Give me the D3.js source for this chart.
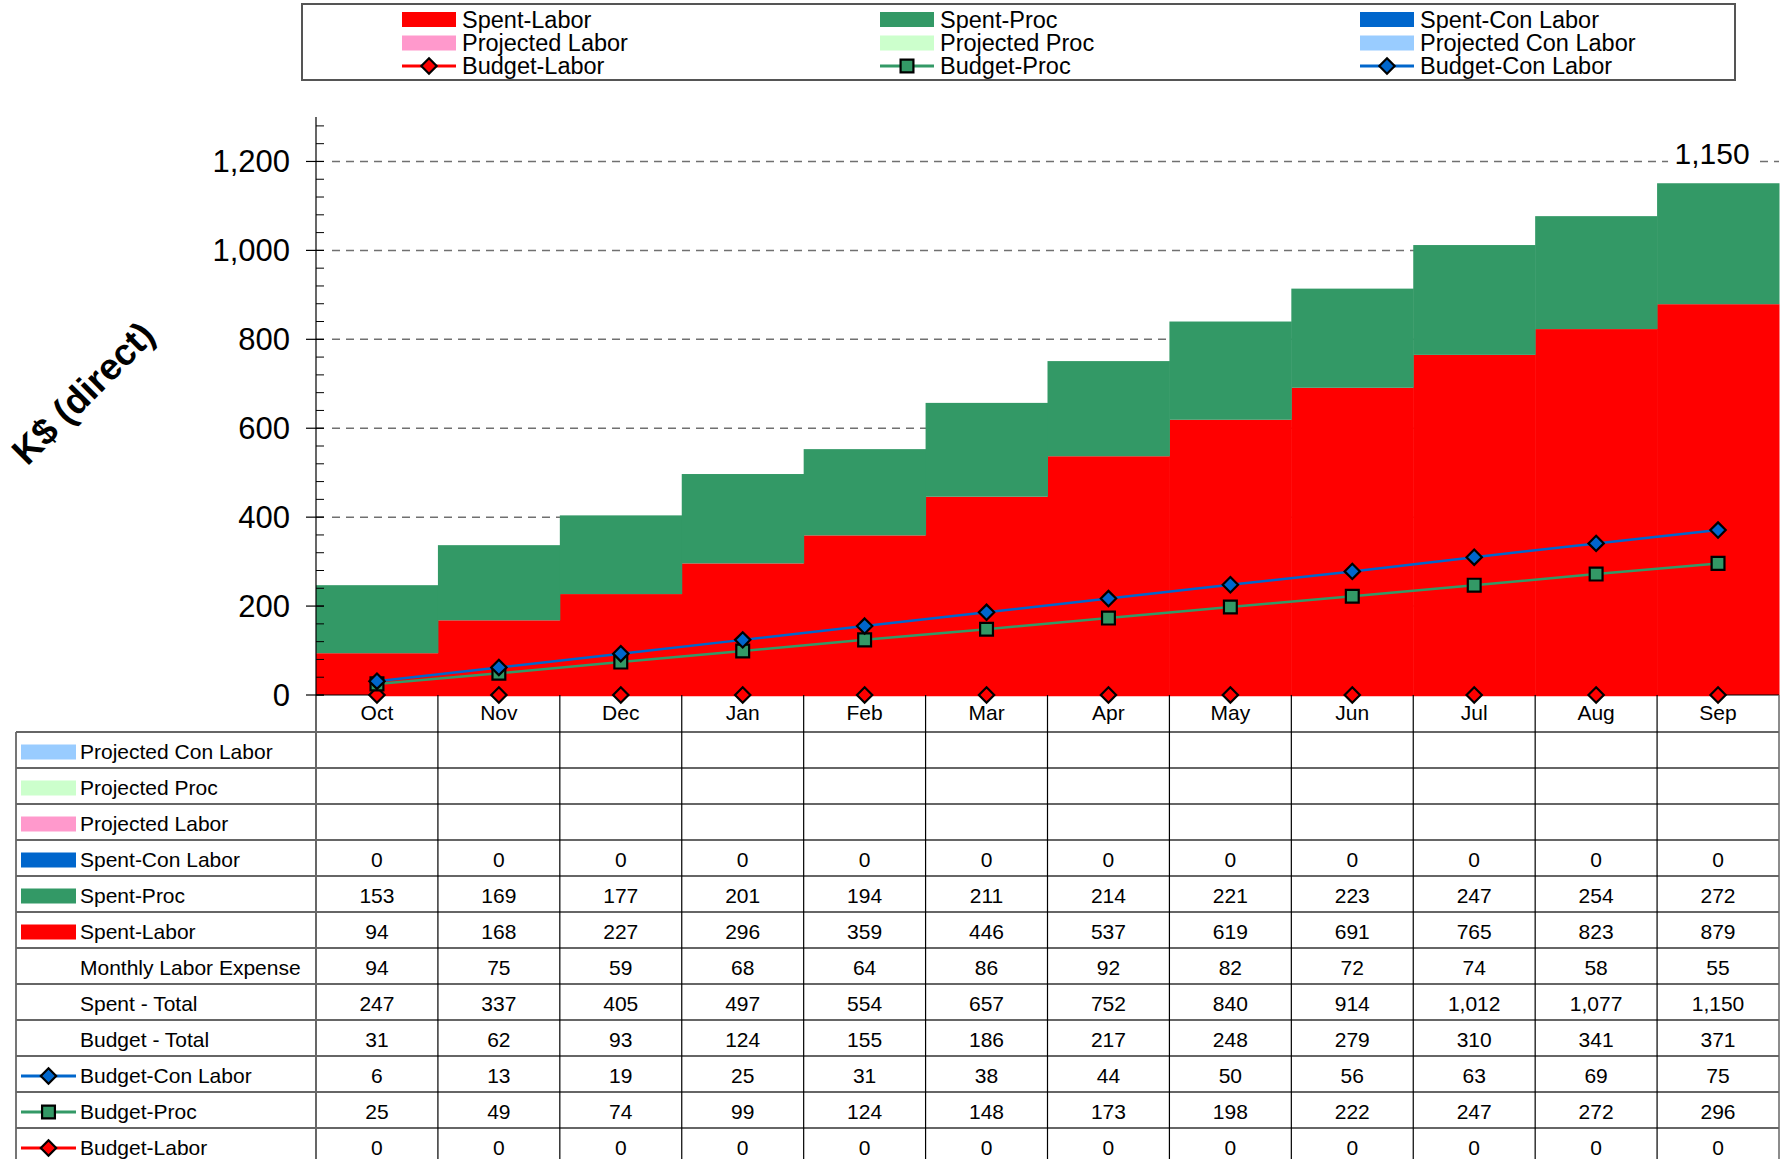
<!doctype html>
<html lang="en">
  <head>
    <meta charset="utf-8">
    <script src="https://cdn.jsdelivr.net/npm/d3@7/dist/d3.min.js"></script>
    <style>
      body {margin:0; background:#fff; overflow:hidden}
      svg {display:block}
      text {font-family:"Liberation Sans", Arial, sans-serif; fill:#000}
    </style>
    <title>K$ direct spend vs budget</title>
  </head>
  <body>
    <script>
      const months = ["Oct","Nov","Dec","Jan","Feb","Mar","Apr","May","Jun","Jul","Aug","Sep"];
      const spentLabor = [94,168,227,296,359,446,537,619,691,765,823,879];
      const spentProc = [153,169,177,201,194,211,214,221,223,247,254,272];
      const spentConLabor = [0,0,0,0,0,0,0,0,0,0,0,0];
      const monthlyLaborExpense = [94,75,59,68,64,86,92,82,72,74,58,55];
      const spentTotal = [247,337,405,497,554,657,752,840,914,1012,1077,1150];
      const budgetTotal = [31,62,93,124,155,186,217,248,279,310,341,371];
      const budgetConLabor = [6,13,19,25,31,38,44,50,56,63,69,75];
      const budgetProc = [25,49,74,99,124,148,173,198,222,247,272,296];
      const budgetLabor = [0,0,0,0,0,0,0,0,0,0,0,0];
      const yTicks = [0,200,400,600,800,1000,1200];

      const W = 1784, H = 1159;
      const x0 = 316, x1 = 1779, y0 = 695, yTop = 117;
      const rowH = 36, tableTop = 732, tableLeft = 16;

      const svg = d3.select("body").append("svg")
        .attr("width", W).attr("height", H);

      const x = d3.scaleBand().domain(months).range([x0, x1]).padding(0);
      const y = d3.scaleLinear().domain([0, 1300]).range([y0, yTop]);

      // gridlines
      svg.append("g").selectAll("line")
        .data(yTicks.filter(d => d > 0))
        .enter().append("line")
        .attr("x1", x0 + 16).attr("x2", x1)
        .attr("y1", d => y(d)).attr("y2", d => y(d))
        .attr("stroke", "#707070").attr("stroke-width", 1.5)
        .attr("stroke-dasharray", "8,6");

      // stacked spend columns
      const spentRows = months.map((m, i) => ({month:m, labor:spentLabor[i], proc:spentProc[i], con:spentConLabor[i]}));
      const spentStack = d3.stack().keys(["labor","proc","con"])(spentRows);
      const barColor = {labor:"#FF0000", proc:"#339966", con:"#0066CC"};

      svg.append("g").selectAll("g")
        .data(spentStack)
        .enter().append("g")
        .attr("fill", d => barColor[d.key])
        .selectAll("rect")
        .data(d => d)
        .enter().append("rect")
        .attr("x", d => x(d.data.month))
        .attr("width", x.bandwidth() + 0.5)
        .attr("y", d => y(d[1]))
        .attr("height", d => y(d[0]) - y(d[1]));

      // total label on last column
      const last = months.length - 1;
      const lbl = svg.append("g")
        .attr("transform", "translate(" + (x(months[last]) + x.bandwidth()/2 - 6) + "," + (y(spentTotal[last]) - 20) + ")");
      lbl.append("rect").attr("x", -44).attr("y", -26).attr("width", 88).attr("height", 30).attr("fill", "#fff");
      lbl.append("text").attr("text-anchor", "middle").attr("font-size", "30px")
        .text(d3.format(",")(spentTotal[last]));

      // y axis
      const yAxis = svg.append("g");
      yAxis.append("line").attr("x1", x0).attr("x2", x0).attr("y1", yTop).attr("y2", H).attr("stroke", "#000").attr("stroke-width", 1.2);
      yAxis.selectAll(".minor")
        .data(d3.range(0, 1301, 40))
        .enter().append("line")
        .attr("x1", x0).attr("x2", x0 + 8)
        .attr("y1", d => y(d)).attr("y2", d => y(d))
        .attr("stroke", "#000").attr("stroke-width", 1);
      yAxis.selectAll(".major")
        .data(yTicks)
        .enter().append("line")
        .attr("x1", x0 - 10).attr("x2", x0 + 8)
        .attr("y1", d => y(d)).attr("y2", d => y(d))
        .attr("stroke", "#000").attr("stroke-width", 1.2);
      yAxis.selectAll("text")
        .data(yTicks)
        .enter().append("text")
        .attr("x", 290).attr("y", d => y(d) + 11)
        .attr("text-anchor", "end").attr("font-size", "31px")
        .text(d => d3.format(",")(d));

      svg.append("text")
        .attr("transform", "translate(92,402) rotate(-45)")
        .attr("text-anchor", "middle").attr("font-size", "37px").attr("font-weight", "bold")
        .text("K$ (direct)");

      // x axis line
      svg.append("line").attr("x1", x0).attr("x2", x1).attr("y1", y0).attr("y2", y0).attr("stroke", "#000").attr("stroke-width", 1.2);

      // budget lines (stacked)
      const budgetRows = months.map((m, i) => ({month:m, labor:budgetLabor[i], proc:budgetProc[i], con:budgetConLabor[i]}));
      const budgetStack = d3.stack().keys(["labor","proc","con"])(budgetRows);
      const lineColor = {labor:"#FF0000", proc:"#339966", con:"#0066CC"};
      const line = d3.line().x(d => x(d.data.month) + x.bandwidth()/2).y(d => y(d[1]));
      const diamond = d3.symbol().type(d3.symbolDiamond2).size(150);
      const square = d3.symbol().type(d3.symbolSquare2).size(210);

      budgetStack.forEach(s => {
        svg.append("path").datum(s)
          .attr("fill", "none").attr("stroke", lineColor[s.key]).attr("stroke-width", 2.5)
          .attr("d", line);
      });
      budgetStack.forEach(s => {
        svg.append("g").selectAll("path")
          .data(s).enter().append("path")
          .attr("transform", d => "translate(" + (x(d.data.month) + x.bandwidth()/2) + "," + y(d[1]) + ")")
          .attr("d", s.key == "proc" ? square : diamond)
          .attr("fill", lineColor[s.key]).attr("stroke", "#000").attr("stroke-width", 2.2);
      });

      // top legend
      const legend = svg.append("g");
      legend.append("rect").attr("x", 302).attr("y", 4).attr("width", 1433).attr("height", 76)
        .attr("fill", "#fff").attr("stroke", "#555").attr("stroke-width", 2);
      const legendItems = [
        {name:"Spent-Labor", color:"#FF0000", kind:"box"},
        {name:"Spent-Proc", color:"#339966", kind:"box"},
        {name:"Spent-Con Labor", color:"#0066CC", kind:"box"},
        {name:"Projected Labor", color:"#FF99CC", kind:"box"},
        {name:"Projected Proc", color:"#CCFFCC", kind:"box"},
        {name:"Projected Con Labor", color:"#99CCFF", kind:"box"},
        {name:"Budget-Labor", color:"#FF0000", kind:"diamond"},
        {name:"Budget-Proc", color:"#339966", kind:"square"},
        {name:"Budget-Con Labor", color:"#0066CC", kind:"diamond"}
      ];
      const legCols = [402, 880, 1360], legRows = [19.5, 43, 66];

      function symbolKey(g, d, cx, cy, w) {
        if (d.kind == "box") {
          g.append("rect").attr("x", cx).attr("y", cy - 7.5).attr("width", w).attr("height", 15).attr("fill", d.color);
        } else {
          g.append("line").attr("x1", cx).attr("x2", cx + w).attr("y1", cy).attr("y2", cy)
            .attr("stroke", d.color).attr("stroke-width", 3);
          g.append("path").attr("transform", "translate(" + (cx + w/2) + "," + cy + ")")
            .attr("d", d.kind == "square" ? square : diamond)
            .attr("fill", d.color).attr("stroke", "#000").attr("stroke-width", 2.2);
        }
      }

      legendItems.forEach((d, i) => {
        const cx = legCols[i % 3], cy = legRows[Math.floor(i / 3)];
        symbolKey(legend, d, cx, cy, 54);
        legend.append("text").attr("x", cx + 60).attr("y", cy + 8).attr("font-size", "23.5px").text(d.name);
      });

      // month labels
      svg.append("g").selectAll("text")
        .data(months).enter().append("text")
        .attr("x", d => x(d) + x.bandwidth()/2).attr("y", 720)
        .attr("text-anchor", "middle").attr("font-size", "21px")
        .text(d => d);

      // data table
      const tableRows = [
        {name:"Projected Con Labor", color:"#99CCFF", kind:"box", values:null},
        {name:"Projected Proc", color:"#CCFFCC", kind:"box", values:null},
        {name:"Projected Labor", color:"#FF99CC", kind:"box", values:null},
        {name:"Spent-Con Labor", color:"#0066CC", kind:"box", values:spentConLabor},
        {name:"Spent-Proc", color:"#339966", kind:"box", values:spentProc},
        {name:"Spent-Labor", color:"#FF0000", kind:"box", values:spentLabor},
        {name:"Monthly Labor Expense", kind:"none", values:monthlyLaborExpense},
        {name:"Spent - Total", kind:"none", values:spentTotal},
        {name:"Budget - Total", kind:"none", values:budgetTotal},
        {name:"Budget-Con Labor", color:"#0066CC", kind:"diamond", values:budgetConLabor},
        {name:"Budget-Proc", color:"#339966", kind:"square", values:budgetProc},
        {name:"Budget-Labor", color:"#FF0000", kind:"diamond", values:budgetLabor}
      ];

      const table = svg.append("g");
      tableRows.forEach((r, i) => {
        const top = tableTop + i * rowH, cy = top + rowH/2 + 2;
        table.append("line").attr("x1", tableLeft).attr("x2", x1).attr("y1", top).attr("y2", top)
          .attr("stroke", "#666").attr("stroke-width", 1.8);
        if (r.kind != "none") symbolKey(table, r, 21, cy, 55);
        table.append("text").attr("x", 80).attr("y", cy + 7).attr("font-size", "21px").text(r.name);
        if (r.values) {
          table.selectAll(null).data(r.values).enter().append("text")
            .attr("x", (d, j) => x(months[j]) + x.bandwidth()/2).attr("y", cy + 7)
            .attr("text-anchor", "middle").attr("font-size", "21px")
            .text(d => d3.format(",")(d));
        }
      });
      table.append("line").attr("x1", tableLeft).attr("x2", tableLeft).attr("y1", tableTop).attr("y2", H)
        .attr("stroke", "#666").attr("stroke-width", 1.8);
      table.selectAll(".vcol")
        .data(months.slice(1)).enter().append("line")
        .attr("x1", d => x(d)).attr("x2", d => x(d))
        .attr("y1", y0).attr("y2", H)
        .attr("stroke", "#000").attr("stroke-width", 1.2);
      table.append("line").attr("x1", x1).attr("x2", x1).attr("y1", y0).attr("y2", H)
        .attr("stroke", "#666").attr("stroke-width", 1.5);
    </script>
  </body>
</html>
